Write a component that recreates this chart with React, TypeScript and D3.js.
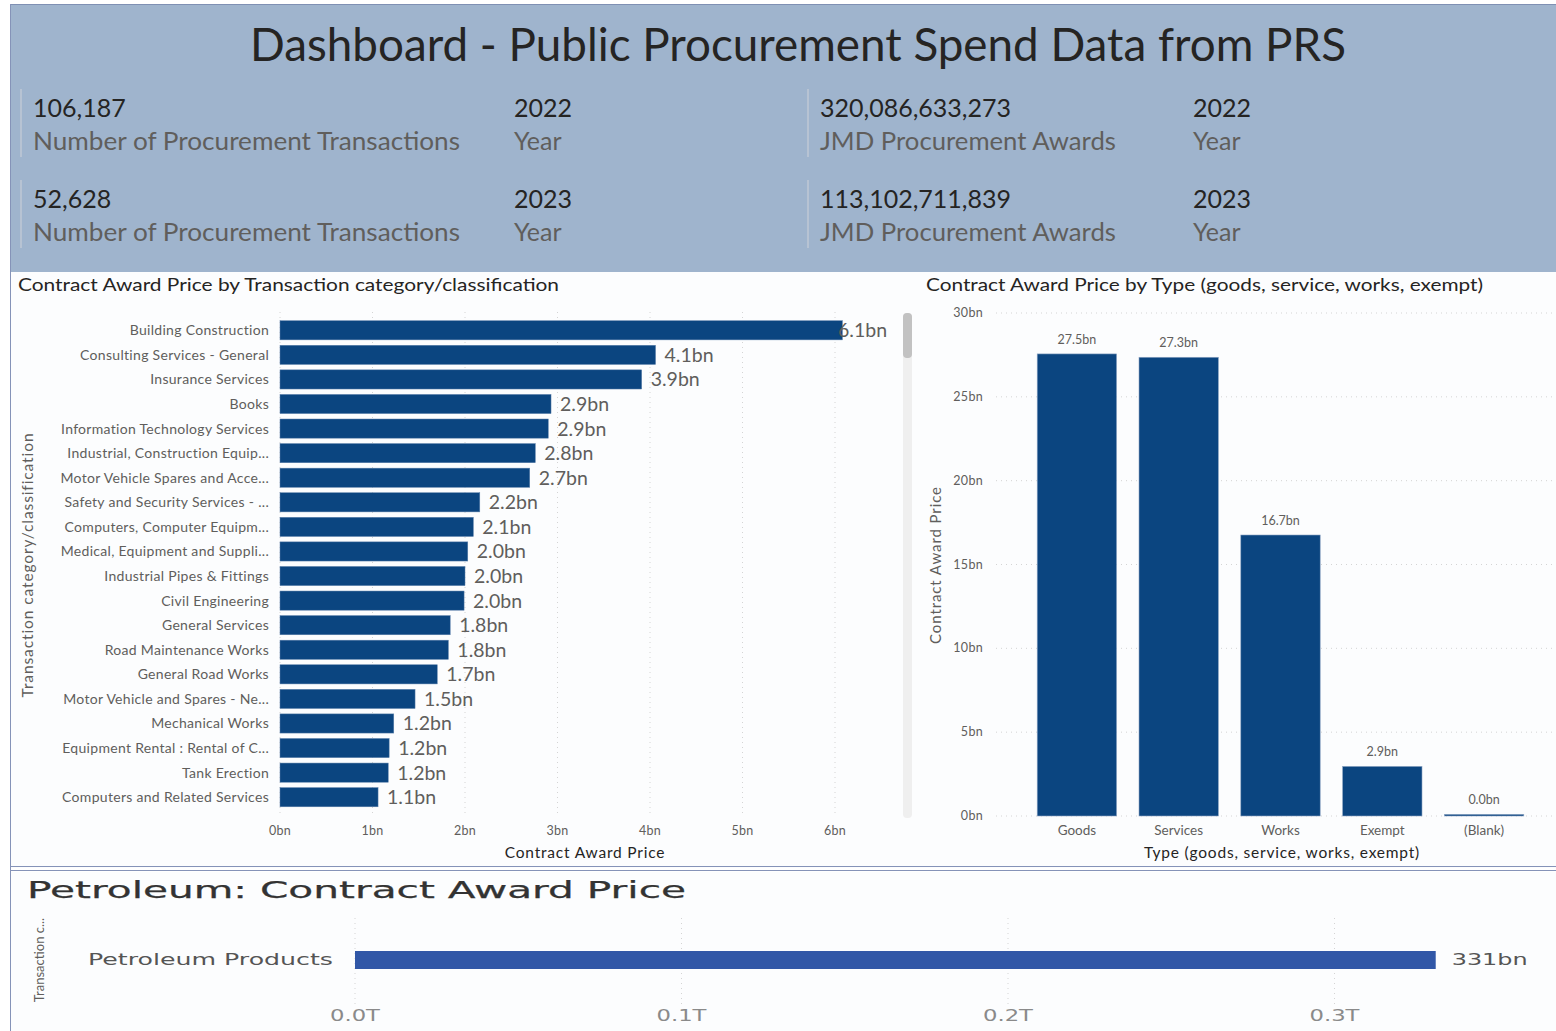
import * as d3 from 'd3';

// header KPIs
const kpiCounts = ['106,187', '52,628'];
const kpiAwards = ['320,086,633,273', '113,102,711,839'];
const kpiYears = ['2022', '2023'];

// contract award price by transaction category (bn JMD)
const categories = [
  'Building Construction',
  'Consulting Services - General',
  'Insurance Services',
  'Books',
  'Information Technology Services',
  'Industrial, Construction Equip...',
  'Motor Vehicle Spares and Acce...',
  'Safety and Security Services - ...',
  'Computers, Computer Equipm...',
  'Medical, Equipment and Suppli...',
  'Industrial Pipes & Fittings',
  'Civil Engineering',
  'General Services',
  'Road Maintenance Works',
  'General Road Works',
  'Motor Vehicle and Spares - Ne...',
  'Mechanical Works',
  'Equipment Rental : Rental of C...',
  'Tank Erection',
  'Computers and Related Services',
];
const categoryValues = [6.08, 4.06, 3.91, 2.93, 2.9, 2.76, 2.7, 2.16, 2.09, 2.03, 2.0, 1.99, 1.84, 1.82, 1.7, 1.46, 1.23, 1.18, 1.17, 1.06];
const categoryTicks = [0, 1, 2, 3, 4, 5, 6];

// contract award price by type (bn JMD)
const types = ['Goods', 'Services', 'Works', 'Exempt', '(Blank)'];
const typeValues = [27.5, 27.3, 16.7, 2.9, 0.04];
const typeTicks = [0, 5, 10, 15, 20, 25, 30];

// petroleum (bn JMD)
const petroCategories = ['Petroleum Products'];
const petroValues = [331];
const petroTicks = [0, 100, 200, 300];

const NAVY = '#0b4580';
const DARK = '#252423';
const GREY = '#605e5c';
const FONT = 'Lato, "Open Sans", sans-serif';
const WIDE = '"DejaVu Sans", Verdana, sans-serif';

export default function App() {
  // left chart scales
  const yCat = d3.scaleBand<string>().domain(categories).range([318, 809.5]).paddingInner(0.22).paddingOuter(0.11);
  const xCat = d3.scaleLinear().domain([0, 6]).range([280, 835]);

  // right chart scales
  const xType = d3.scaleBand<string>().domain(types).range([1026, 1535]).paddingInner(0.22).paddingOuter(0.11);
  const yType = d3.scaleLinear().domain([0, 30]).range([816, 313]);

  // petroleum scales
  const xPet = d3.scaleLinear().domain([0, 300]).range([355, 1334.5]);
  const yPet = d3.scaleBand<string>().domain(petroCategories).range([921, 999]).paddingOuter(1.667);

  const fmt1 = d3.format('.1f');

  return (
    <svg width={1556} height={1031} style={{ position: 'absolute', left: 0, top: 0, background: '#fff' }}>
      {/* header band */}
      <rect x={10} y={4} width={1546} height={268} fill="#9fb4cd" />
      <line x1={10} x2={1556} y1={4.5} y2={4.5} stroke="#7f90b3" />
      <rect x={10} y={272} width={1546} height={596} fill="#fcfdfe" />
      <line x1={10.5} x2={10.5} y1={4} y2={870} stroke="#8593b8" />
      <line x1={10} x2={1556} y1={866.5} y2={866.5} stroke="#8593b8" />
      <line x1={10} x2={1556} y1={870.5} y2={870.5} stroke="#8593b8" />
      <rect x={10} y={872} width={1546} height={159} fill="#fcfdfe" />
      <line x1={10.5} x2={10.5} y1={871} y2={1031} stroke="#8593b8" />

      <text x={798} y={61} textAnchor="middle" fontFamily={FONT} fontSize={46} fill={DARK}
        textLength={1096} lengthAdjust="spacingAndGlyphs">
        Dashboard - Public Procurement Spend Data from PRS
      </text>

      {kpiYears.map((yr, i) => {
        const top = 117 + i * 91;
        return (
          <g key={yr}>
            <line x1={21} x2={21} y1={top - 28} y2={top + 40} stroke="#b7c3d3" strokeWidth={2} />
            <text x={33} y={top} fontFamily={FONT} fontSize={25} fill={DARK}>{kpiCounts[i]}</text>
            <text x={33} y={top + 33} fontFamily={FONT} fontSize={25} fill={GREY}
              textLength={427} lengthAdjust="spacingAndGlyphs">Number of Procurement Transactions</text>
            <text x={514} y={top} fontFamily={FONT} fontSize={25} fill={DARK}>{yr}</text>
            <text x={514} y={top + 33} fontFamily={FONT} fontSize={25} fill={GREY}>Year</text>

            <line x1={808} x2={808} y1={top - 28} y2={top + 40} stroke="#b7c3d3" strokeWidth={2} />
            <text x={820} y={top} fontFamily={FONT} fontSize={25} fill={DARK}>{kpiAwards[i]}</text>
            <text x={820} y={top + 33} fontFamily={FONT} fontSize={25} fill={GREY}
              textLength={296} lengthAdjust="spacingAndGlyphs">JMD Procurement Awards</text>
            <text x={1193} y={top} fontFamily={FONT} fontSize={25} fill={DARK}>{yr}</text>
            <text x={1193} y={top + 33} fontFamily={FONT} fontSize={25} fill={GREY}>Year</text>
          </g>
        );
      })}

      {/* left chart */}
      <text x={18} y={291} fontFamily={FONT} fontSize={18} fill={DARK}
        textLength={541} lengthAdjust="spacingAndGlyphs">
        Contract Award Price by Transaction category/classification
      </text>
      {categoryTicks.map(t => (
        <g key={t}>
          <line x1={xCat(t)} x2={xCat(t)} y1={312} y2={814} stroke="#d4d4d4" strokeDasharray="1,4" />
          <text x={xCat(t)} y={835} textAnchor="middle" fontFamily={FONT} fontSize={12.5} letterSpacing={0.3} fill={GREY}>{t}bn</text>
        </g>
      ))}
      {categories.map((c, i) => {
        const y0 = yCat(c)!;
        const h = yCat.bandwidth();
        const xEnd = xCat(categoryValues[i]);
        return (
          <g key={c}>
            <text x={269} y={y0 + h / 2 + 5} textAnchor="end" fontFamily={FONT} fontSize={14} letterSpacing={0.3} fill={GREY}>{c}</text>
            <rect x={xCat(0)} y={y0} width={xEnd - xCat(0)} height={h} fill={NAVY} stroke="#5d80aa" strokeWidth={0.5} />
            <text x={Math.min(xEnd + 9, 838)} y={y0 + h / 2 + 7} fontFamily={FONT} fontSize={19.5} fill={GREY}>
              {fmt1(categoryValues[i])}bn
            </text>
          </g>
        );
      })}
      <text x={585} y={858} textAnchor="middle" fontFamily={FONT} fontSize={15.5} letterSpacing={0.8} fill={DARK}>Contract Award Price</text>
      <text transform="translate(33,565) rotate(-90)" textAnchor="middle" fontFamily={FONT} fontSize={15.5} letterSpacing={0.9} fill={GREY}>
        Transaction category/classification
      </text>
      <rect x={903} y={313} width={9} height={505} rx={4} fill="#efefef" />
      <rect x={903} y={313} width={9} height={45} rx={4} fill="#c2c2c2" />

      {/* right chart */}
      <text x={926} y={291} fontFamily={FONT} fontSize={18} fill={DARK}
        textLength={557} lengthAdjust="spacingAndGlyphs">
        Contract Award Price by Type (goods, service, works, exempt)
      </text>
      {typeTicks.map(t => (
        <g key={t}>
          <line x1={996} x2={1556} y1={yType(t)} y2={yType(t)} stroke="#d4d4d4" strokeDasharray="1,4" />
          <text x={983} y={yType(t) + 4} textAnchor="end" fontFamily={FONT} fontSize={12.5} letterSpacing={0.3} fill={GREY}>{t}bn</text>
        </g>
      ))}
      {types.map((t, i) => {
        const x0 = xType(t)!;
        const w = xType.bandwidth();
        const yTop = yType(typeValues[i]);
        return (
          <g key={t}>
            <rect x={x0} y={yTop - 1} width={w} height={yType(0) - yTop + 1} fill={NAVY} stroke="#8fa6c4" strokeWidth={0.6} />
            <text x={x0 + w / 2} y={yTop - 11} textAnchor="middle" fontFamily={FONT} fontSize={12.5} fill={GREY}>
              {fmt1(typeValues[i])}bn
            </text>
            <text x={x0 + w / 2} y={835} textAnchor="middle" fontFamily={FONT} fontSize={13.5} fill={GREY}>{t}</text>
          </g>
        );
      })}
      <text x={1282} y={858} textAnchor="middle" fontFamily={FONT} fontSize={15.5} letterSpacing={0.8} fill={DARK}>
        Type (goods, service, works, exempt)
      </text>
      <text transform="translate(941,565) rotate(-90)" textAnchor="middle" fontFamily={FONT} fontSize={15} letterSpacing={0.9} fill={GREY}>
        Contract Award Price
      </text>

      {/* petroleum chart */}
      <text x={27} y={898} fontFamily={WIDE} fontSize={23} fill="#333" stroke="#333" strokeWidth={0.25}
        textLength={659} lengthAdjust="spacingAndGlyphs">
        Petroleum: Contract Award Price
      </text>
      {petroTicks.map(t => (
        <g key={t}>
          <line x1={xPet(t)} x2={xPet(t)} y1={918} y2={1004} stroke="#d4d4d4" strokeDasharray="1,4" />
          <text x={xPet(t)} y={1021} textAnchor="middle" fontFamily={WIDE} fontSize={15} fill="#8a8a8a"
            textLength={50} lengthAdjust="spacingAndGlyphs">
            {(t / 1000).toFixed(1)}T
          </text>
        </g>
      ))}
      {petroCategories.map((c, i) => {
        const y0 = yPet(c)!;
        const h = yPet.bandwidth();
        return (
          <g key={c}>
            <text x={333} y={y0 + h / 2 + 5} textAnchor="end" fontFamily={WIDE} fontSize={15} fill="#555"
              textLength={245} lengthAdjust="spacingAndGlyphs">{c}</text>
            <rect x={xPet(0)} y={y0} width={xPet(petroValues[i]) - xPet(0)} height={h} fill="#3157a7" />
            <text x={xPet(petroValues[i]) + 16} y={y0 + h / 2 + 5} fontFamily={WIDE} fontSize={15} fill="#555"
              textLength={76} lengthAdjust="spacingAndGlyphs">{petroValues[i]}bn</text>
          </g>
        );
      })}
      <text transform="translate(44,960) rotate(-90)" textAnchor="middle" fontFamily={FONT} fontSize={13} fill={GREY}>
        Transaction c...
      </text>
    </svg>
  );
}
